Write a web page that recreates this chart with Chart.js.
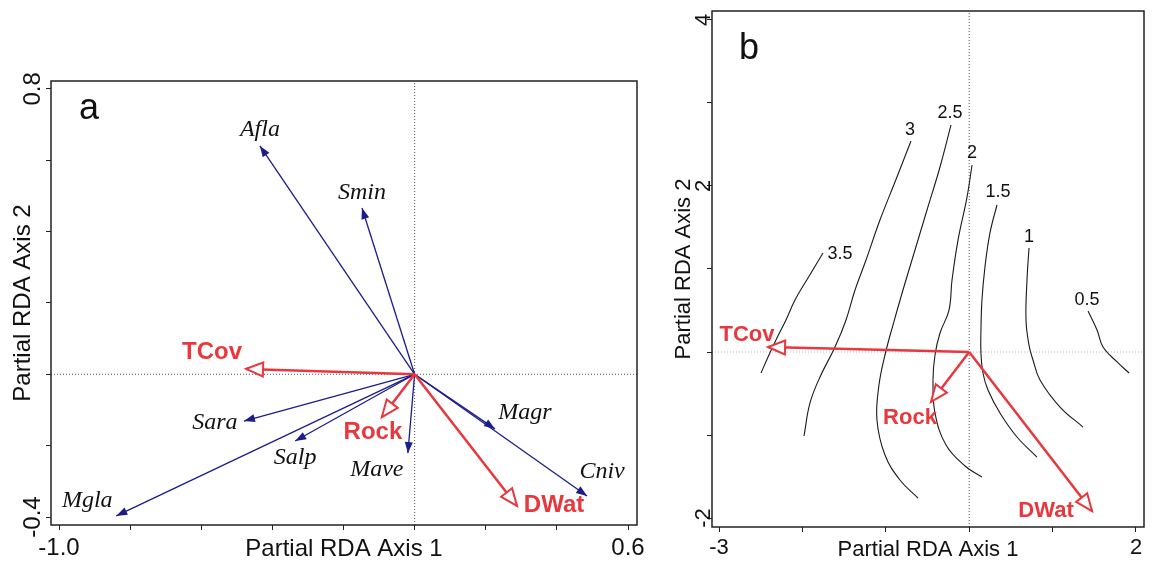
<!DOCTYPE html>
<html>
<head>
<meta charset="utf-8">
<script src="https://cdn.jsdelivr.net/npm/chart.js@4.4.1/dist/chart.umd.min.js"></script>
<style>
  html, body { margin: 0; padding: 0; background: #fff; }
  #wrap { position: relative; width: 1153px; height: 566px; overflow: hidden; }
  canvas { position: absolute; top: 0; }
  #chartA { left: 0; }
  #chartB { left: 660px; }
</style>
</head>
<body>
<div id="wrap">
  <canvas id="chartA" width="660" height="566"></canvas>
  <canvas id="chartB" width="493" height="566"></canvas>
</div>
<script>
// ---- dados ----

// painel a: especies (setas azuis)
const speciesA = ['Afla', 'Smin', 'Sara', 'Salp', 'Mgla', 'Mave', 'Magr', 'Cniv'];
const speciesAX = [-0.435, -0.148, -0.480, -0.336, -0.839, -0.019, 0.226, 0.485];
const speciesAY = [0.640, 0.466, -0.131, -0.187, -0.397, -0.221, -0.153, -0.341];

// variaveis ambientais (setas vermelhas)
const envNames = ['TCov', 'Rock', 'DWat'];
const envAX = [-0.474, -0.092, 0.288];
const envAY = [0.015, -0.120, -0.369];
const envBX = [-2.412, -0.458, 1.473];
const envBY = [0.060, -0.602, -1.916];

// painel b: isolinhas
const contourLevels = ['3.5', '3', '2.5', '2', '1.5', '1', '0.5'];
const contourX = [
  [-1.753, -1.933, -2.089, -2.197, -2.317, -2.412, -2.496],
  [-0.698, -0.866, -1.070, -1.237, -1.369, -1.477, -1.609, -1.789, -1.909, -1.981],
  [-0.218, -0.350, -0.506, -0.650, -0.794, -0.914, -1.010, -1.082, -1.106, -1.010, -0.830, -0.614],
  [0.034, -0.026, -0.134, -0.206, -0.242, -0.350, -0.410, -0.434, -0.410, -0.278, -0.050, 0.153],
  [0.333, 0.249, 0.189, 0.153, 0.141, 0.141, 0.165, 0.225, 0.369, 0.573, 0.813],
  [0.717, 0.693, 0.681, 0.717, 0.765, 0.849, 1.089, 1.365],
  [1.425, 1.533, 1.605, 1.773, 1.917]
];
const contourY = [
  [1.193, 0.892, 0.627, 0.386, 0.145, -0.060, -0.253],
  [2.542, 2.108, 1.590, 1.108, 0.747, 0.386, 0.060, -0.301, -0.614, -1.012],
  [2.735, 2.229, 1.711, 1.229, 0.747, 0.325, -0.036, -0.398, -0.819, -1.241, -1.542, -1.759],
  [2.253, 1.867, 1.349, 0.867, 0.506, 0.229, -0.036, -0.337, -0.735, -1.120, -1.373, -1.506],
  [1.771, 1.434, 1.024, 0.627, 0.265, -0.012, -0.253, -0.458, -0.735, -1.024, -1.265],
  [1.253, 0.867, 0.386, 0.084, -0.096, -0.337, -0.663, -0.904],
  [0.494, 0.265, 0.060, -0.120, -0.253]
];

// marcas dos eixos
const xTicksA = [-1.0, -0.8, -0.6, -0.4, -0.2, 0, 0.2, 0.4, 0.6];
const xTickLabelsA = ['-1.0', '', '', '', '', '', '', '', '0.6'];
const yTicksA = [-0.4, -0.2, 0, 0.2, 0.4, 0.6, 0.8];
const yTickLabelsA = ['-0.4', '', '', '', '', '', '0.8'];
const xTicksB = [-3, -2, -1, 0, 1, 2];
const xTickLabelsB = ['-3', '', '', '', '', '2'];
const yTicksB = [-2, -1, 0, 1, 2, 3, 4];
const yTickLabelsB = ['-2', '', '', '', '2', '', '4'];

// ---- estilo / layout ----
const SANS = "'Liberation Sans', Arial, sans-serif";
const SERIF = "'Liberation Serif', 'Times New Roman', serif";
const RED = '#e8373d';
const NAVY = '#1c1c8c';
const INK = '#111';

const limitsA = { xMin: -1.0225, xMax: 0.6253, yMin: -0.4224, yMax: 0.822 };
const limitsB = { xMin: -3.084, xMax: 2.096, yMin: -2.108, yMax: 4.108 };

// deslocamento dos rotulos (px) em relacao a ponta da seta
const tagOffsetA = {
  Afla: [0, -16], Smin: [0, -15], Sara: [-29, 2], Salp: [0, 17], Mgla: [-29, -15],
  Mave: [-31, 17], Magr: [30, -16], Cniv: [15, -24],
  TCov: [-34, -17], Rock: [-9, 15], DWat: [37, -1]
};
const tagOffsetB = {
  TCov: [-21, -12], Rock: [-21, 16], DWat: [-46, 0],
  '3.5': [17, 1], '3': [-1, -11], '2.5': [-1, -12], '2': [0, -12],
  '1.5': [1, -13], '1': [0, -11], '0.5': [-1, -11]
};

// desenha pontas das setas
const arrowHeads = {
  id: 'arrowHeads',
  afterDatasetsDraw(chart) {
    const ctx = chart.ctx;
    chart.data.datasets.forEach((ds, i) => {
      if (!ds.arrow) return;
      const pts = chart.getDatasetMeta(i).data;
      const a = pts[0], b = pts[pts.length - 1];
      const ang = Math.atan2(b.y - a.y, b.x - a.x);
      const open = ds.arrow === 'open';
      const len = open ? 17 : 11;
      const half = open ? 7 : 4;
      ctx.save();
      ctx.translate(b.x, b.y);
      ctx.rotate(ang);
      ctx.beginPath();
      ctx.moveTo(0, 0);
      ctx.lineTo(-len, -half);
      ctx.lineTo(-len, half);
      ctx.closePath();
      if (open) {
        ctx.fillStyle = '#fff';
        ctx.fill();
        ctx.lineWidth = 2;
        ctx.strokeStyle = ds.borderColor;
        ctx.stroke();
      } else {
        ctx.fillStyle = ds.borderColor;
        ctx.fill();
      }
      ctx.restore();
    });
  }
};

// rotulos das setas e das isolinhas
const tags = {
  id: 'tags',
  afterDatasetsDraw(chart) {
    const ctx = chart.ctx;
    chart.data.datasets.forEach((ds, i) => {
      if (!ds.tag) return;
      const pts = chart.getDatasetMeta(i).data;
      const p = ds.tagAt === 'start' ? pts[0] : pts[pts.length - 1];
      const off = ds.tagOffset || [0, 0];
      ctx.save();
      ctx.font = ds.tagFont;
      ctx.fillStyle = ds.tagColor;
      ctx.textAlign = 'center';
      ctx.textBaseline = 'middle';
      ctx.fillText(ds.tag, p.x + off[0], p.y + off[1]);
      ctx.restore();
    });
  }
};

// moldura e letra do painel
const frame = {
  id: 'frame',
  afterDraw(chart, args, opts) {
    const { ctx, chartArea: ca } = chart;
    ctx.save();
    ctx.strokeStyle = '#222';
    ctx.lineWidth = 1.5;
    ctx.strokeRect(ca.left, ca.top, ca.right - ca.left, ca.bottom - ca.top);
    ctx.font = '36px ' + SANS;
    ctx.fillStyle = INK;
    ctx.textAlign = 'left';
    ctx.textBaseline = 'alphabetic';
    ctx.fillText(opts.letter, ca.left + opts.dx, ca.top + opts.dy);
    ctx.restore();
  }
};

function arrowSet(name, x, y, kind, offsets, font, color) {
  return {
    label: name,
    data: [{ x: 0, y: 0 }, { x: x, y: y }],
    showLine: true,
    borderColor: kind === 'open' ? RED : NAVY,
    borderWidth: kind === 'open' ? 2.5 : 1.3,
    pointRadius: 0,
    arrow: kind,
    tag: name,
    tagAt: 'end',
    tagOffset: offsets[name],
    tagFont: font,
    tagColor: color
  };
}

function zeroLines(lim, colorV, colorH) {
  return [
    { data: [{ x: 0, y: lim.yMin }, { x: 0, y: lim.yMax }], showLine: true, pointRadius: 0,
      borderColor: colorV, borderWidth: 1, borderDash: [1, 2] },
    { data: [{ x: lim.xMin, y: 0 }, { x: lim.xMax, y: 0 }], showLine: true, pointRadius: 0,
      borderColor: colorH, borderWidth: 1, borderDash: [1, 2] }
  ];
}

function xAxis(lim, ticks, labels, size, tickPad, titlePad, height) {
  return {
    type: 'linear', position: 'bottom', min: lim.xMin, max: lim.xMax, bounds: 'data',
    afterBuildTicks: s => { s.ticks = ticks.map(v => ({ value: v })); },
    afterFit: s => { s.height = height; },
    ticks: { callback: (v, i) => labels[i], autoSkip: false, maxRotation: 0,
      font: { family: SANS, size: size }, color: INK, padding: tickPad },
    grid: { drawOnChartArea: false, tickLength: 5, color: '#222', lineWidth: 1 },
    border: { display: false },
    title: { display: true, text: 'Partial RDA Axis 1', color: INK,
      font: { family: SANS, size: size }, padding: { top: 0, bottom: titlePad } }
  };
}

function yAxis(lim, ticks, labels, size, tickPad, titlePad, width) {
  return {
    type: 'linear', position: 'left', min: lim.yMin, max: lim.yMax, bounds: 'data',
    afterBuildTicks: s => { s.ticks = ticks.map(v => ({ value: v })); },
    afterFit: s => { s.width = width; },
    ticks: { callback: (v, i) => labels[i], autoSkip: false, minRotation: 90, maxRotation: 90,
      crossAlign: 'center', font: { family: SANS, size: size }, color: INK, padding: tickPad },
    grid: { drawOnChartArea: false, tickLength: 5, color: '#222', lineWidth: 1 },
    border: { display: false },
    title: { display: true, text: 'Partial RDA Axis 2', color: INK,
      font: { family: SANS, size: size }, padding: { top: titlePad, bottom: 0 } }
  };
}

// ---- painel a ----
const datasetsA = [];
envNames.forEach((n, i) => {
  datasetsA.push(arrowSet(n, envAX[i], envAY[i], 'open', tagOffsetA, 'bold 24px ' + SANS, RED));
});
speciesA.forEach((n, i) => {
  datasetsA.push(arrowSet(n, speciesAX[i], speciesAY[i], 'solid', tagOffsetA, 'italic 24px ' + SERIF, INK));
});
zeroLines(limitsA, '#555', '#555').forEach(d => datasetsA.push(d));

new Chart(document.getElementById('chartA'), {
  type: 'scatter',
  data: { datasets: datasetsA },
  options: {
    responsive: false,
    animation: false,
    layout: { padding: { left: 0, top: 81, right: 23, bottom: 0 } },
    scales: {
      x: xAxis(limitsA, xTicksA, xTickLabelsA, 24, 4, 2, 41),
      y: yAxis(limitsA, yTicksA, yTickLabelsA, 24, -8, 9, 51)
    },
    plugins: {
      legend: { display: false },
      tooltip: { enabled: false },
      frame: { letter: 'a', dx: 28, dy: 38 }
    }
  },
  plugins: [arrowHeads, tags, frame]
});

// ---- painel b ----
const datasetsB = [];
envNames.forEach((n, i) => {
  datasetsB.push(arrowSet(n, envBX[i], envBY[i], 'open', tagOffsetB, 'bold 22px ' + SANS, RED));
});
contourLevels.forEach((lev, i) => {
  datasetsB.push({
    label: lev,
    data: contourX[i].map((x, j) => ({ x: x, y: contourY[i][j] })),
    showLine: true,
    borderColor: '#1a1a1a',
    borderWidth: 1.1,
    tension: 0.4,
    pointRadius: 0,
    tag: lev,
    tagAt: 'start',
    tagOffset: tagOffsetB[lev],
    tagFont: '18px ' + SANS,
    tagColor: INK
  });
});
zeroLines(limitsB, '#555', '#bbb').forEach(d => datasetsB.push(d));

new Chart(document.getElementById('chartB'), {
  type: 'scatter',
  data: { datasets: datasetsB },
  options: {
    responsive: false,
    animation: false,
    layout: { padding: { left: 0, top: 11, right: 9, bottom: 0 } },
    scales: {
      x: xAxis(limitsB, xTicksB, xTickLabelsB, 22, 3, 3, 39),
      y: yAxis(limitsB, yTicksB, yTickLabelsB, 22, -7, 11, 52)
    },
    plugins: {
      legend: { display: false },
      tooltip: { enabled: false },
      frame: { letter: 'b', dx: 27, dy: 48 }
    }
  },
  plugins: [arrowHeads, tags, frame]
});
</script>
</body>
</html>
